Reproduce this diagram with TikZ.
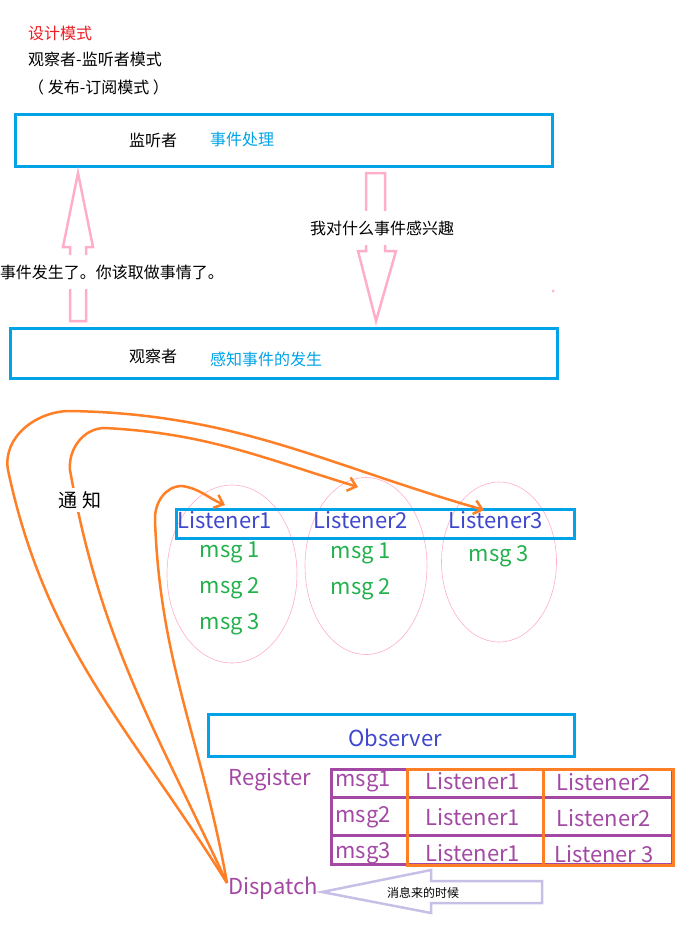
\documentclass[tikz,border=0pt]{standalone}
\usepackage{fontspec}
\setmainfont{Noto Sans CJK SC}
\usepackage{tikz}
\usetikzlibrary{positioning,arrows.meta,shapes.geometric}
\definecolor{skyblue}{HTML}{00A2E8}
\definecolor{ink}{HTML}{3F48CC}
\definecolor{leaf}{HTML}{22B14C}
\definecolor{plum}{HTML}{A349A4}
\definecolor{carrot}{HTML}{FF7F27}
\definecolor{rose}{HTML}{FFAEC9}
\definecolor{lilac}{HTML}{C8BFE7}
\definecolor{alert}{HTML}{ED1C24}
\tikzset{notify/.style={draw=carrot, line width=2.5pt, -{Straight Barb[length=8pt,width=14pt]}}}

\begin{document}
\begin{tikzpicture}[x=1pt, y=1pt, inner sep=2pt,
  box/.style = {draw=skyblue, line width=3pt},
  zh/.style = {font=\fontsize{16}{19}\selectfont},
  en/.style = {font=\fontsize{22}{26}\selectfont},
  lens/.style = {draw=rose, ellipse, line width=0.6pt},
  hollow/.style = {draw=rose, line width=2.5pt, line join=miter}]
\useasboundingbox (0,0) rectangle (683,-926);

\node[zh, text=alert, anchor=west] (t1) at (26,-33) {设计模式};
\node[zh, anchor=west] (t2) at (26,-59) {观察者-监听者模式};
\node[zh, anchor=west] (t3) at (26,-87) {（ 发布-订阅模式 ）};

\node[box, minimum width=537, minimum height=52] (listen) at (283.5,-140) {};
\node[zh] (lname) at (153,-140) {监听者};
\node[zh, text=skyblue] (ljob) at (242,-139) {事件处理};

\node[box, minimum width=547, minimum height=50] (observe) at (283.5,-353) {};
\node[zh] (oname) at (153,-356) {观察者};
\node[zh, text=skyblue] (ojob) at (266,-359) {感知事件的发生};

\draw[hollow] (78,-173) -- (93,-247) -- (86,-247) -- (86,-321) -- (70,-321)
  -- (70,-247) -- (63,-247) -- cycle;
\draw[hollow] (366,-173) -- (385,-173) -- (385,-251) -- (396,-251) -- (376,-321)
  -- (358,-251) -- (366,-251) -- cycle;
\node[zh, fill=white, inner ysep=10pt] (happen) at (112,-272) {事件发生了。你该取做事情了。};
\node[zh, fill=white, inner ysep=10pt] (want) at (382,-228) {我对什么事件感兴趣};
\fill[rose] (553,-291) circle (1.5);

\node[lens, minimum width=130, minimum height=178] (e1) at (232,-574) {};
\node[lens, minimum width=122, minimum height=177] (e2) at (366,-566) {};
\node[lens, minimum width=115, minimum height=160] (e3) at (499,-562) {};
\node[box, minimum width=398, minimum height=29] (lbox) at (375.5,-524) {};
\node[en, text=ink] (l1) at (225,-520) {Listener1};
\node[en, text=ink] (l2) at (361,-520) {Listener2};
\node[en, text=ink] (l3) at (496,-520) {Listener3};
\node[en, text=leaf] (m11) at (230,-552) {msg 1};
\node[en, text=leaf] (m12) at (230,-588) {msg 2};
\node[en, text=leaf] (m13) at (230,-624) {msg 3};
\node[en, text=leaf] (m21) at (361,-553) {msg 1};
\node[en, text=leaf] (m22) at (361,-589) {msg 2};
\node[en, text=leaf] (m33) at (499,-556) {msg 3};

\node[box, minimum width=366, minimum height=42] (obs) at (391,-735) {};
\node[en, text=ink] (obstext) at (395,-738) {Observer};
\node[en, text=plum] (reg) at (270,-780) {Register};
\node[en, text=plum] (disp) at (273,-888) {Dispatch};

\draw[plum, line width=3pt] (331,-769) rectangle (672,-864);
\draw[plum, line width=3pt] (331,-797) -- (672,-797) (331,-835) -- (672,-835);
\draw[carrot, line width=3pt] (407,-769) rectangle (543,-865) (543,-769) rectangle (673,-865);
\foreach \m/\a/\b [count=\i] in {msg1/Listener1/Listener2, msg2/Listener1/Listener2, msg3/Listener1/Listener 3}
{
  \node[en, text=plum] (k\i) at (363,-781-36*\i+36) {\m};
  \node[en, text=plum] (a\i) at (473,-781-36*\i+36) {\a};
  \node[en, text=plum] (b\i) at (604,-782-36*\i+36) {\b};
}

\draw[lilac, line width=2.5pt, line join=miter] (322,-892) -- (431,-870) -- (431,-881) -- (542,-881)
  -- (542,-903) -- (431,-903) -- (431,-913) -- cycle;
\node[font=\fontsize{12}{14}\selectfont] (when) at (423,-893) {消息来的时候};

\coordinate (d) at (227,-883);
\coordinate (h1) at (225,-505);
\coordinate (h2) at (358,-487);
\coordinate (h3) at (484,-510);
\draw[notify] (d) to[out=122,in=-78] (8,-470) to[out=100,in=180] (70,-411) to[out=-1,in=164] (h3);
\draw[notify] (d) to[out=115,in=-80] (70,-470) to[out=95,in=180] (105,-428) to[out=-3,in=163] (h2);
\draw[notify] (d) to[out=100,in=-88] (155,-520) to[out=92,in=180] (182,-486) to[out=-8,in=158] (h1);
\node[font=\fontsize{19}{22}\selectfont, fill=white, inner sep=3pt] (tell) at (80,-500) {通 知};
\end{tikzpicture}
\end{document}
